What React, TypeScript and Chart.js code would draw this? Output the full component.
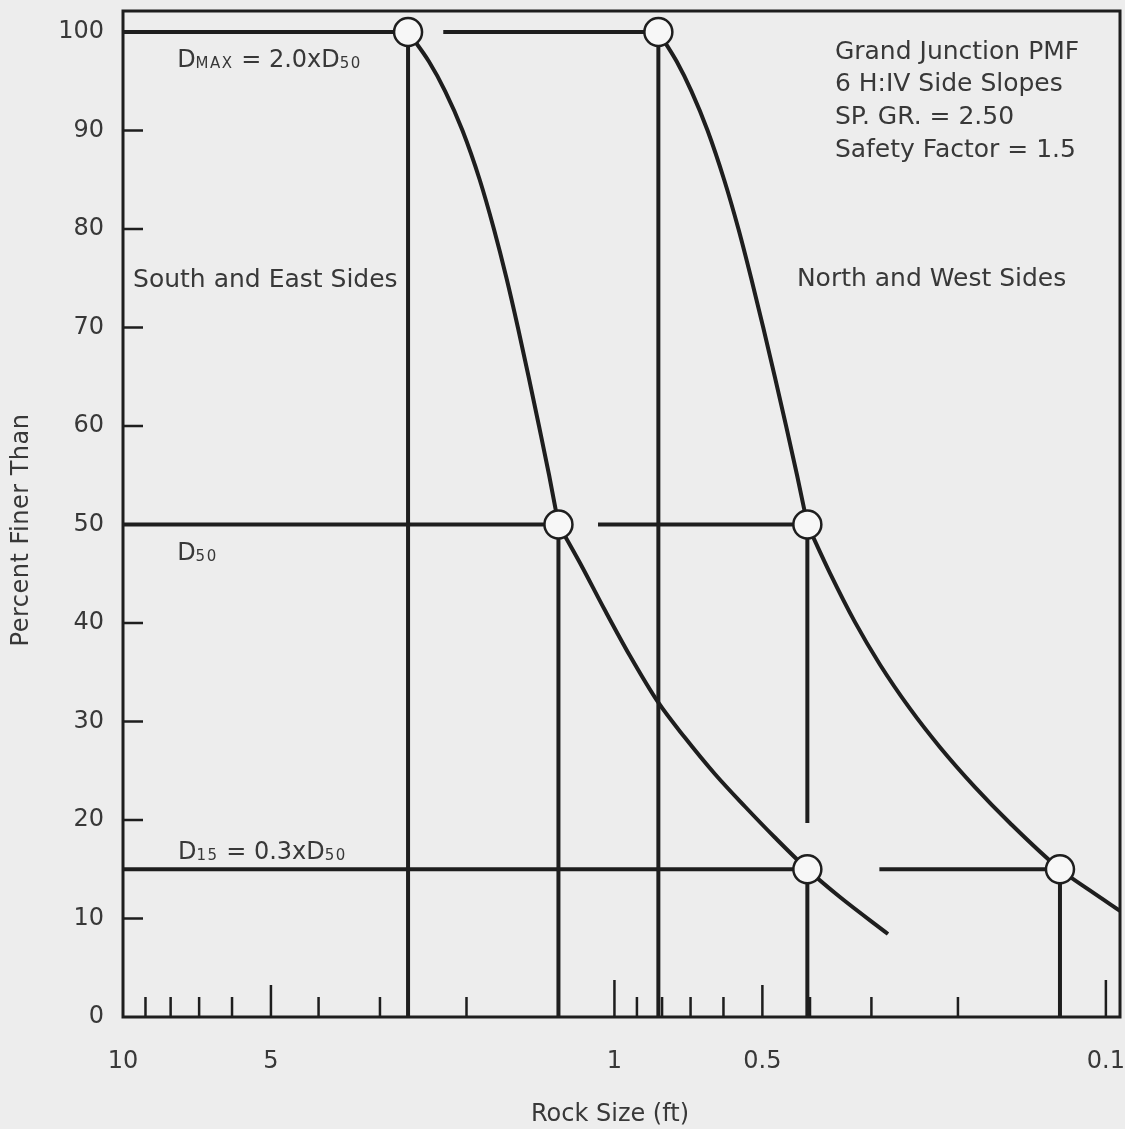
import React, { useEffect, useRef } from "react";
import { Chart, registerables } from "chart.js";

Chart.register(...registerables);

// ---------------- data ----------------
// Gradation curves: rock size (ft) vs percent finer than
const southCurveSize = [2.63, 2.385, 2.211, 2.038, 1.88, 1.759, 1.658, 1.572, 1.495, 1.424, 1.358, 1.3, 1.175, 1.0455, 0.93, 0.8157, 0.719, 0.6246, 0.5426, 0.4715, 0.405, 0.3477, 0.2776];
const southCurvePct = [100, 97, 94, 90, 85, 80, 75, 70, 65, 60, 55, 50, 46.09, 41.29, 36.67, 31.98, 28.37, 24.67, 21.37, 18.22, 15, 12.18, 8.43];
const northCurveSize = [0.814, 0.7469, 0.6973, 0.6464, 0.5981, 0.5593, 0.5269, 0.498, 0.4717, 0.4474, 0.425, 0.405, 0.3643, 0.324, 0.2883, 0.2504, 0.2176, 0.1847, 0.1568, 0.124, 0.1078, 0.0936];
const northCurvePct = [100, 97, 94, 90, 85, 80, 75, 70, 65, 60, 55, 50, 45.07, 40.09, 35.79, 31.3, 27.39, 23.34, 19.7, 15, 12.85, 10.78];

// Design points: DMAX, D50, D15
const gradationPct = [100, 50, 15];
const southGradSize = [2.63, 1.3, 0.405];
const northGradSize = [0.814, 0.405, 0.124];
const southLeaderFrom = [10, 10, 10];
const northLeaderFrom = [2.23, 1.08, 0.289];
const southDropTo = [0, 0, 0];
const northDropTo = [0, 19.7, 0];

// Axes
const xMin = 0.0936;
const xMax = 10;
const yMin = 0;
const yMax = 102.13;
const xLabelTicks = [10, 5, 1, 0.5, 0.1];
const xDecadeMarks = [1, 0.1];
const xHalfMarks = [5, 0.5];
const xMinorMarks = [9, 8, 7, 6, 4, 3, 2, 0.9, 0.8, 0.7, 0.6, 0.4, 0.3, 0.2];
const yLabelTicks = [0, 10, 20, 30, 40, 50, 60, 70, 80, 90, 100];
const yMarks = [10, 20, 30, 40, 50, 60, 70, 80, 90];

const xTitle = "Rock Size (ft)";
const yTitle = "Percent Finer Than";
const infoLines = ["Grand Junction PMF", "6 H:IV Side Slopes", "SP. GR. = 2.50", "Safety Factor = 1.5"];
const southLabel = "South and East Sides";
const northLabel = "North and West Sides";

// ---------------- styles / layout ----------------
const W = 1125;
const H = 1129;
const FONT = '"DejaVu Sans", "Liberation Sans", sans-serif';
const INK = "#1e1e1e";
const TEXT = "#383838";
const BG = "#ededed";
const CIRCLE_FILL = "#f7f7f7";

type Part = { t: string; sub?: boolean };
const dmaxParts: Part[] = [{ t: "D" }, { t: "MAX", sub: true }, { t: " = 2.0xD" }, { t: "50", sub: true }];
const d50Parts: Part[] = [{ t: "D" }, { t: "50", sub: true }];
const d15Parts: Part[] = [{ t: "D" }, { t: "15", sub: true }, { t: " = 0.3xD" }, { t: "50", sub: true }];

// annotation anchors in data space (left edge, baseline)
const richAnchors = [
  { parts: dmaxParts, x: 7.76, y: 96.45 },
  { parts: d50Parts, x: 7.76, y: 46.4 },
  { parts: d15Parts, x: 7.73, y: 16.04 },
];
const plainAnchors = [
  { text: southLabel, x: 9.54, y: 74.11 },
  { text: northLabel, x: 0.4253, y: 74.21 },
  { text: infoLines[0], x: 0.356, y: 97.26 },
  { text: infoLines[1], x: 0.356, y: 94.01 },
  { text: infoLines[2], x: 0.356, y: 90.66 },
  { text: infoLines[3], x: 0.356, y: 87.31 },
];

const pts = (xs: number[], ys: number[]) => xs.map((x, i) => ({ x, y: ys[i] }));

function lineDs(data: { x: number; y: number }[], smooth = false) {
  return {
    type: "line" as const,
    data,
    borderColor: INK,
    borderWidth: 4,
    pointRadius: 0,
    pointHoverRadius: 0,
    fill: false,
    tension: 0,
    cubicInterpolationMode: smooth ? ("monotone" as const) : ("default" as const),
    order: 2,
  };
}

// split a curve at its design points so each piece is smoothed on its own
function curvePieces(sizes: number[], pcts: number[], breaks: number[]) {
  const all = pts(sizes, pcts);
  const pieces: { x: number; y: number }[][] = [];
  let cur: { x: number; y: number }[] = [];
  all.forEach((p, i) => {
    cur.push(p);
    if (i > 0 && i < all.length - 1 && breaks.includes(p.y)) {
      pieces.push(cur);
      cur = [p];
    }
  });
  pieces.push(cur);
  return pieces;
}

function buildDatasets() {
  const ds: any[] = [];
  for (const piece of curvePieces(southCurveSize, southCurvePct, [50])) ds.push(lineDs(piece, true));
  for (const piece of curvePieces(northCurveSize, northCurvePct, [50])) ds.push(lineDs(piece, true));
  gradationPct.forEach((p, i) => {
    ds.push(lineDs([{ x: southLeaderFrom[i], y: p }, { x: southGradSize[i], y: p }]));
    ds.push(lineDs([{ x: northLeaderFrom[i], y: p }, { x: northGradSize[i], y: p }]));
    ds.push(lineDs([{ x: southGradSize[i], y: p }, { x: southGradSize[i], y: southDropTo[i] }]));
    ds.push(lineDs([{ x: northGradSize[i], y: p }, { x: northGradSize[i], y: northDropTo[i] }]));
  });
  ds.push({
    type: "line",
    data: [...pts(southGradSize, gradationPct), ...pts(northGradSize, gradationPct)],
    showLine: false,
    pointRadius: 14,
    pointHoverRadius: 14,
    pointBorderWidth: 2.5,
    pointBorderColor: INK,
    pointBackgroundColor: CIRCLE_FILL,
    order: 0,
  });
  return ds;
}

function drawRich(ctx: CanvasRenderingContext2D, parts: Part[], x: number, y: number) {
  let cx = x;
  for (const p of parts) {
    if (p.sub) {
      ctx.font = `15px ${FONT}`;
      (ctx as any).letterSpacing = "1.5px";
    } else {
      ctx.font = `24px ${FONT}`;
      (ctx as any).letterSpacing = "0px";
    }
    ctx.fillText(p.t, cx, y + (p.sub ? 1 : 0));
    cx += ctx.measureText(p.t).width;
  }
  (ctx as any).letterSpacing = "0px";
}

const decorPlugin = {
  id: "decor",
  beforeDraw(chart: any) {
    const { ctx, width, height } = chart;
    ctx.save();
    ctx.fillStyle = BG;
    ctx.fillRect(0, 0, width, height);
    ctx.restore();
  },
  beforeDatasetsDraw(chart: any) {
    const { ctx, chartArea: a, scales } = chart;
    const xs = scales.x;
    const ys = scales.y;
    ctx.save();
    ctx.strokeStyle = INK;
    ctx.lineWidth = 3;
    ctx.strokeRect(a.left, a.top, a.right - a.left, a.bottom - a.top);
    ctx.lineWidth = 2.5;
    ctx.beginPath();
    for (const v of yMarks) {
      const py = ys.getPixelForValue(v);
      ctx.moveTo(a.left, py);
      ctx.lineTo(a.left + 20, py);
    }
    const mark = (list: number[], len: number) => {
      for (const v of list) {
        const px = xs.getPixelForValue(v);
        ctx.moveTo(px, a.bottom);
        ctx.lineTo(px, a.bottom - len);
      }
    };
    mark(xMinorMarks, 20);
    mark(xHalfMarks, 32);
    mark(xDecadeMarks, 37);
    ctx.stroke();
    ctx.restore();
  },
  afterDraw(chart: any) {
    const { ctx, scales, chartArea: a } = chart;
    const xs = scales.x;
    const ys = scales.y;
    ctx.save();
    ctx.fillStyle = TEXT;
    ctx.textBaseline = "alphabetic";
    ctx.textAlign = "left";
    for (const r of richAnchors) {
      drawRich(ctx, r.parts, xs.getPixelForValue(r.x), ys.getPixelForValue(r.y));
    }
    ctx.font = `25px ${FONT}`;
    for (const p of plainAnchors) {
      ctx.fillText(p.text, xs.getPixelForValue(p.x), ys.getPixelForValue(p.y));
    }
    // axis titles
    ctx.textAlign = "center";
    ctx.textBaseline = "middle";
    ctx.font = `24px ${FONT}`;
    ctx.fillText(xTitle, 610, 1115);
    ctx.save();
    ctx.translate(a.left - 101, 530);
    ctx.rotate(-Math.PI / 2);
    ctx.font = `24px ${FONT}`;
    (ctx as any).letterSpacing = "0.5px";
    ctx.fillText(yTitle, 0, 0);
    ctx.restore();
    ctx.restore();
  },
};

export default function App() {
  const ref = useRef<HTMLCanvasElement>(null);
  useEffect(() => {
    const canvas = ref.current;
    if (!canvas) return;
    const chart = new Chart(canvas, {
      type: "line",
      data: { datasets: buildDatasets() },
      options: {
        animation: false,
        responsive: false,
        devicePixelRatio: 1,
        events: [],
        layout: { autoPadding: false, padding: { top: 11, right: 5, left: 0, bottom: 0 } },
        plugins: { legend: { display: false }, tooltip: { enabled: false } },
        scales: {
          x: {
            type: "logarithmic",
            reverse: true,
            min: xMin,
            max: xMax,
            grid: { display: false, drawTicks: false },
            border: { display: false },
            ticks: {
              autoSkip: false,
              maxRotation: 0,
              padding: 30,
              color: TEXT,
              font: { family: FONT, size: 24 },
              callback: (v: any) => String(v),
            },
            afterBuildTicks: (s: any) => {
              s.ticks = xLabelTicks.map((v) => ({ value: v }));
            },
            afterFit: (s: any) => {
              s.height = H - 1017;
              s.paddingLeft = 0;
              s.paddingRight = 0;
            },
          },
          y: {
            type: "linear",
            min: yMin,
            max: yMax,
            grid: { display: false, drawTicks: false },
            border: { display: false },
            ticks: {
              autoSkip: false,
              padding: 19,
              color: TEXT,
              font: { family: FONT, size: 24 },
              callback: (v: any) => String(v),
            },
            afterBuildTicks: (s: any) => {
              s.ticks = yLabelTicks.map((v) => ({ value: v }));
            },
            afterFit: (s: any) => {
              s.width = 123;
              s.paddingTop = 0;
              s.paddingBottom = 0;
            },
          },
        },
      } as any,
      plugins: [decorPlugin],
    });
    return () => chart.destroy();
  }, []);
  return (
    <div style={{ position: "absolute", left: 0, top: 0, width: W, height: H, background: BG }}>
      <canvas ref={ref} width={W} height={H} style={{ display: "block" }} />
    </div>
  );
}
